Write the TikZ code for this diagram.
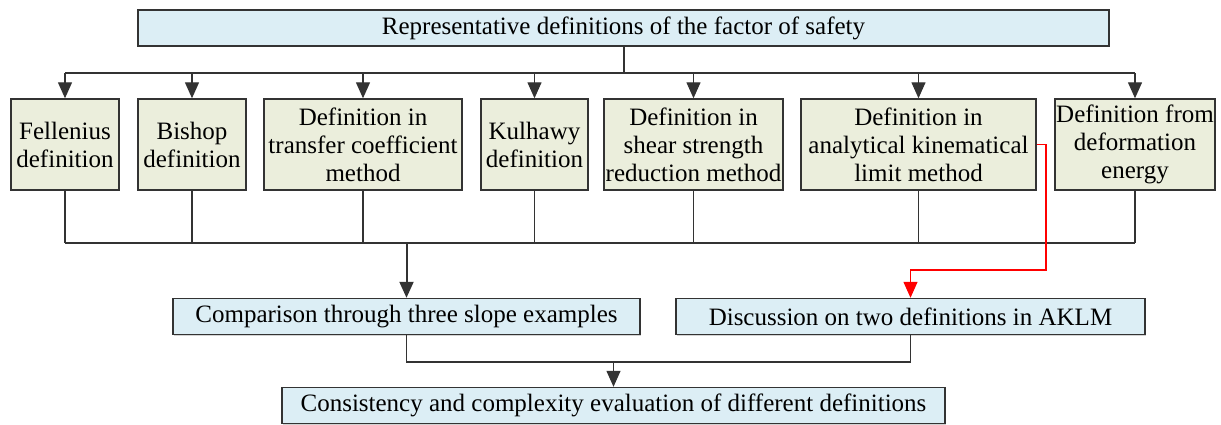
\documentclass[tikz,border=0pt]{standalone}
\usepackage{fontspec}
\setmainfont{Liberation Serif}
\usetikzlibrary{arrows.meta,shadows}
\definecolor{lysblaa}{HTML}{DCEEF5}
\definecolor{lysgronn}{HTML}{EBEEDC}
\definecolor{kant}{HTML}{333333}
\tikzset{
  boks/.style={draw=kant, line width=1.4pt, inner sep=0pt, align=center,
    font=\fontsize{25}{28}\selectfont,
    drop shadow={shadow xshift=1.3pt, shadow yshift=-1.3pt, opacity=.35}},
  blaaboks/.style={boks, fill=lysblaa, minimum height=36pt},
  gronnboks/.style={boks, fill=lysgronn, minimum height=91pt},
  linje/.style={draw=kant, line width=1.3pt},
  pil/.style={linje, -{Triangle[length=16pt,width=14pt]}},
}
\begin{document}
\begin{tikzpicture}[x=1pt,y=-1pt]
	\useasboundingbox (0,0) rectangle (1221,425);

	% Hovedboks
	\node[blaaboks, minimum width=971pt] (top) at (623.5,28) {Representative definitions of the factor of safety};

	% Definisjoner
	\node[gronnboks, minimum width=108pt] (fel) at (65,144.5) {Fellenius\\definition};
	\node[gronnboks, minimum width=108pt] (bis) at (192,144.5) {Bishop\\definition};
	\node[gronnboks, minimum width=198pt] (tra) at (363,144.5) {Definition in\\transfer coefficient\\method};
	\node[gronnboks, minimum width=107pt] (kul) at (534.5,144.5) {Kulhawy\\definition};
	\node[gronnboks, minimum width=179pt] (ssr) at (693.5,144.5) {Definition in\\shear strength\\reduction method};
	\node[gronnboks, minimum width=235pt] (akl) at (918.5,144.5) {Definition in\\analytical kinematical\\limit method};
	\node[gronnboks, minimum width=160pt] (def) at (1135,144.5) {Definition from\\deformation\\energy};

	% Sammenligning og diskusjon
	\node[blaaboks, minimum width=467pt] (sam) at (406.5,316.5) {Comparison through three slope examples};
	\node[blaaboks, minimum width=469pt] (dis) at (910.5,316.5) {Discussion on two definitions in AKLM};
	\node[blaaboks, minimum width=663pt] (kon) at (613.5,405.5) {Consistency and complexity evaluation of different definitions};

	% Skinner
	\coordinate (s1) at (0,73);
	\coordinate (s2) at (0,243);
	\coordinate (s3) at (0,362);
	\coordinate (rk) at (1046,270);

	% Fordeling ned til definisjonene
	\draw[linje, line width=2pt] (top.south) -- (top.south |- s1);
	\draw[linje] (fel.north |- s1) -- (def.north |- s1);
	\foreach \n in {fel,bis,tra,kul,ssr,akl,def}
		\draw[pil] (\n.north |- s1) -- (\n.north);

	% Samling under definisjonene
	\foreach \n in {fel,bis,tra,kul,ssr,akl,def}
		\draw[linje] (\n.south) -- (\n.south |- s2);
	\draw[linje] (fel.south |- s2) -- (def.south |- s2);
	\draw[linje, line width=1.8pt] (bis.south |- s2) -- (akl.south |- s2);
	\draw[pil, line width=2pt] (sam.north |- s2) -- (sam.north);

	% Rod pil til AKLM
	\draw[pil, draw=red] (akl.east) -| (rk) -| (dis.north);

	% Til slutt
	\draw[linje] (sam.south) -- (sam.south |- s3) -- (dis.south |- s3) -- (dis.south);
	\draw[pil] (kon.north |- s3) -- (kon.north);
\end{tikzpicture}
\end{document}
